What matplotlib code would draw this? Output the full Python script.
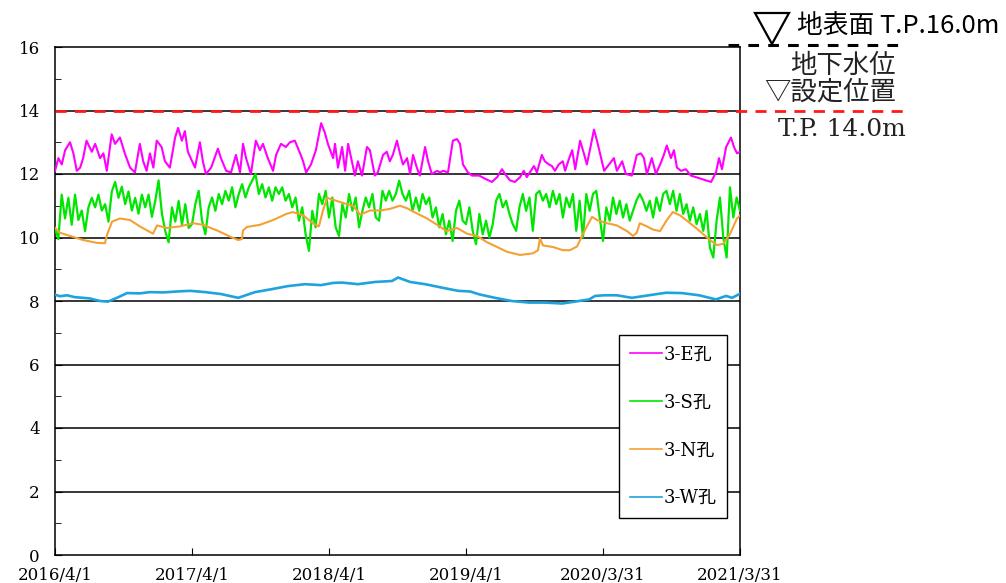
import numpy as np
import matplotlib
matplotlib.use("Agg")
import matplotlib.pyplot as plt
from matplotlib.patches import Polygon

plt.rcParams['font.family'] = ['DejaVu Serif', 'Noto Sans CJK JP']

# days since 2016/4/1
tick_days = [0, 365, 730, 1095, 1460, 1825]
tick_labels = ['2016/4/1', '2017/4/1', '2018/4/1', '2019/4/1', '2020/3/31', '2021/3/31']

# 3-E孔
e_days = [0, 9, 18, 27, 40, 49, 58, 67, 75, 84,
          98, 107, 120, 129, 138, 151, 160, 173, 186, 200,
          213, 226, 235, 244, 253, 262, 271, 284, 293, 306,
          320, 328, 338, 346, 354, 373, 386, 394, 402, 416,
          434, 442, 456, 469, 482, 493, 501, 509, 522, 535,
          546, 554, 567, 581, 589, 602, 615, 626, 639, 653,
          661, 669, 682, 695, 709, 719, 727, 741, 746, 754,
          765, 773, 781, 791, 799, 807, 818, 831, 839, 852,
          860, 874, 884, 892, 900, 911, 919, 927, 938, 946,
          954, 964, 972, 986, 994, 1004, 1018, 1026, 1034, 1047,
          1060, 1071, 1079, 1087, 1100, 1111, 1130, 1146, 1164, 1178,
          1191, 1199, 1212, 1225, 1239, 1249, 1257, 1265, 1276, 1284,
          1297, 1305, 1316, 1324, 1332, 1342, 1353, 1359, 1370, 1378,
          1386, 1399, 1409, 1417, 1425, 1436, 1444, 1452, 1463, 1476,
          1489, 1497, 1511, 1521, 1537, 1550, 1561, 1569, 1577, 1590,
          1601, 1614, 1622, 1630, 1641, 1649, 1657, 1668, 1681, 1694,
          1708, 1721, 1734, 1748, 1761, 1769, 1777, 1788, 1801, 1809,
          1817, 1825]
e_level = [12.1, 12.5, 12.3, 12.75, 13.0, 12.65, 12.1, 12.2, 12.5, 13.05,
           12.7, 12.95, 12.5, 12.65, 12.1, 13.25, 12.95, 13.15, 12.65, 12.2,
           12.05, 12.95, 12.4, 12.1, 12.65, 12.2, 13.05, 12.85, 12.4, 12.2,
           13.15, 13.45, 13.05, 13.35, 12.7, 12.2, 13.0, 12.4, 12.0, 12.2,
           12.8, 12.5, 12.1, 12.05, 12.6, 12.05, 12.95, 12.5, 12.0, 13.05,
           12.75, 12.95, 12.5, 12.1, 12.6, 12.95, 12.85, 13.0, 13.05, 12.65,
           12.4, 12.05, 12.3, 12.75, 13.6, 13.3, 12.95, 12.5, 12.95, 12.2,
           12.85, 12.1, 12.95, 12.4, 11.95, 12.4, 11.95, 12.85, 12.75, 11.95,
           12.05, 12.6, 12.7, 12.4, 12.6, 13.05, 12.65, 12.3, 12.5, 12.0,
           12.6, 12.2, 11.95, 12.85, 12.4, 12.0, 12.1, 12.05, 12.1, 12.05,
           13.05, 13.1, 12.95, 12.3, 12.05, 11.95, 11.95, 11.85, 11.75, 11.9,
           12.15, 12.0, 11.8, 11.75, 11.9, 12.1, 11.9, 12.05, 12.25, 12.05,
           12.6, 12.4, 12.3, 12.25, 12.1, 12.3, 12.4, 12.1, 12.5, 12.75,
           12.15, 13.05, 12.65, 12.3, 12.75, 13.4, 13.05, 12.65, 12.1, 12.3,
           12.5, 12.1, 12.4, 12.0, 11.95, 12.6, 12.65, 12.5, 12.0, 12.5,
           12.0, 12.35, 12.6, 12.9, 12.5, 12.75, 12.2, 12.1, 12.15, 11.95,
           11.9, 11.85, 11.8, 11.75, 12.05, 12.5, 12.15, 12.85, 13.15, 12.85,
           12.65, 12.7]

# 3-S孔 (evenly spaced readings over the whole period)
s_level = [10.3, 9.95, 11.35, 10.6, 11.25, 10.4, 11.35, 10.55, 10.85, 10.2,
           10.95, 11.25, 10.95, 11.35, 10.85, 11.05, 10.5, 11.45, 11.75, 11.25,
           11.6, 11.05, 11.45, 10.85, 11.25, 10.75, 11.35, 10.95, 11.35, 10.65,
           11.15, 11.8, 10.75, 10.2, 9.85, 10.95, 10.5, 11.15, 10.4, 11.05, 10.3,
           10.42, 11.05, 11.47, 10.53, 10.1, 10.95, 11.26, 10.84, 11.37, 11.05,
           11.47, 11.16, 11.58, 10.95, 11.37, 11.68, 11.26, 11.58, 11.79, 12.0,
           11.37, 11.68, 11.26, 11.58, 11.16, 11.58, 11.37, 11.58, 11.16, 11.37,
           10.95, 11.26, 10.53, 10.95, 10.1, 9.58, 10.84, 10.32, 11.37, 11.05, 11.47,
           10.63, 11.26, 10.32, 10.05, 11.05, 10.63, 11.37, 10.84, 11.26, 10.32,
           10.84, 11.26, 10.95, 11.37, 10.63, 10.53, 11.47, 11.16, 11.47, 11.16,
           11.37, 11.79, 11.37, 11.16, 11.47, 10.84, 11.26, 10.84, 11.37, 11.05,
           11.26, 10.63, 10.95, 10.32, 10.74, 10.1, 10.53, 9.89, 10.84, 11.16, 10.53,
           10.42, 10.95, 10.21, 9.79, 10.74, 10.1, 10.53, 10.0, 10.42, 11.16,
           11.37, 10.95, 11.16, 10.74, 10.42, 10.21, 10.95, 11.37, 10.84, 11.26,
           10.21, 11.37, 11.47, 11.16, 11.37, 10.95, 11.47, 11.05, 11.37, 10.63,
           11.26, 10.95, 11.37, 10.21, 11.16, 10.0, 11.37, 10.84, 11.37, 11.47, 10.63,
           9.89, 10.95, 10.53, 11.26, 10.74, 11.16, 10.63, 11.05, 10.53, 10.84,
           11.16, 11.37, 11.16, 10.84, 11.16, 10.63, 11.26, 10.84, 11.37, 11.47,
           11.05, 11.47, 10.84, 11.37, 10.74, 11.05, 10.53, 10.95, 10.42, 10.74,
           10.21, 10.84, 9.68, 9.37, 10.53, 11.26, 10.0, 9.37, 11.58, 10.63,
           11.26, 10.84]
s_days = np.linspace(0, 1825, len(s_level))

# 3-N孔
n_days = [0, 13, 40, 75, 112, 133, 139, 152, 173, 200,
          226, 261, 272, 298, 333, 368, 394, 432, 466, 488,
          498, 501, 511, 546, 581, 618, 634, 661, 687, 703,
          714, 725, 751, 778, 794, 813, 839, 866, 892, 919,
          938, 964, 991, 1018, 1044, 1071, 1098, 1124, 1151, 1178,
          1204, 1239, 1273, 1287, 1292, 1300, 1327, 1353, 1372, 1391,
          1399, 1407, 1417, 1431, 1444, 1471, 1497, 1524, 1540, 1550,
          1558, 1577, 1593, 1612, 1630, 1646, 1665, 1692, 1718, 1745,
          1764, 1780, 1798, 1817, 1825]
n_level = [10.3, 10.15, 10.05, 9.92, 9.83, 9.82, 10.1, 10.5, 10.6, 10.55,
           10.35, 10.12, 10.38, 10.3, 10.35, 10.45, 10.4, 10.22, 10.03, 9.92,
           9.95, 10.22, 10.33, 10.4, 10.55, 10.75, 10.8, 10.7, 10.45, 10.35,
           10.85, 11.25, 11.15, 11.05, 11.0, 10.72, 10.85, 10.85, 10.9, 11.0,
           10.92, 10.76, 10.6, 10.4, 10.2, 10.3, 10.12, 10.05, 9.85, 9.7,
           9.55, 9.45, 9.5, 9.6, 9.97, 9.75, 9.7, 9.6, 9.6, 9.72,
           9.92, 10.12, 10.35, 10.65, 10.55, 10.45, 10.38, 10.2, 10.05, 10.15,
           10.45, 10.35, 10.25, 10.2, 10.55, 10.8, 10.7, 10.45, 10.2, 9.92,
           9.76, 9.8, 10.1, 10.6, 10.7]

# 3-W孔
w_days = [0, 13, 32, 53, 75, 93, 120, 141, 165, 192,
          226, 253, 288, 325, 360, 400, 442, 488, 533, 576,
          621, 666, 709, 741, 765, 807, 853, 898, 914, 946,
          986, 1031, 1074, 1106, 1130, 1172, 1217, 1263, 1305, 1351,
          1396, 1423, 1439, 1463, 1497, 1537, 1582, 1628, 1670, 1716,
          1761, 1788, 1804, 1825]
w_level = [8.2, 8.15, 8.18, 8.12, 8.1, 8.08, 8.0, 7.98, 8.1, 8.25,
           8.24, 8.28, 8.27, 8.3, 8.32, 8.28, 8.22, 8.1, 8.28, 8.37,
           8.47, 8.53, 8.5, 8.57, 8.58, 8.53, 8.6, 8.63, 8.74, 8.6,
           8.53, 8.42, 8.32, 8.3, 8.21, 8.1, 8.0, 7.95, 7.95, 7.92,
           8.0, 8.05, 8.16, 8.18, 8.18, 8.1, 8.18, 8.26, 8.25, 8.18,
           8.05, 8.16, 8.1, 8.23]

ground_level = 16.0
limit_level = 14.0

W, H = 1006, 583
fig = plt.figure(figsize=(W / 100, H / 100), dpi=100)
ax = fig.add_axes([55 / W, 1 - 555 / H, 685 / W, 508 / H])

for y in range(2, 16, 2):
    ax.axhline(y, color='black', lw=1.1, zorder=1)

ax.plot(e_days, e_level, color='#ff00ff', lw=1.5, label='3-E孔', zorder=3)
ax.plot(s_days, s_level, color='#00e600', lw=1.6, label='3-S孔', zorder=3)
ax.plot(n_days, n_level, color='#f5a033', lw=1.5, label='3-N孔', zorder=4)
ax.plot(w_days, w_level, color='#1ea3dd', lw=1.9, label='3-W孔', zorder=4)

# 14m line runs out past the frame
x_end = (905 - 55) * 1825 / 685
ax.plot([0, x_end], [limit_level, limit_level], color='#ff1a1a', lw=2,
        dashes=(4, 3), clip_on=False, zorder=5)
x_g0 = (728 - 55) * 1825 / 685
ax.plot([x_g0, x_end], [ground_level + 0.05, ground_level + 0.05], color='black',
        lw=2.2, dashes=(3.5, 3), clip_on=False, zorder=5)

ax.set_xlim(0, 1825)
ax.set_ylim(0, 16)
ax.set_xticks(tick_days)
ax.set_xticklabels(tick_labels)
ax.set_yticks(range(0, 17, 2))
ax.set_yticks(range(1, 17, 2), minor=True)
ax.tick_params(axis='both', which='both', direction='in', labelsize=12)
ax.tick_params(axis='y', which='major', length=5, pad=11)
ax.tick_params(axis='y', which='minor', length=4)
ax.tick_params(axis='x', which='major', length=5, pad=9)
for sp in ax.spines.values():
    sp.set_linewidth(1.1)

leg = ax.legend(loc='lower left', bbox_to_anchor=((619 - 55) / 685, (555 - 518) / 508),
                borderaxespad=0, fontsize=13, handlelength=1.8, handletextpad=0.05,
                labelspacing=1.65, borderpad=0.6, fancybox=False, framealpha=1,
                edgecolor='black')
leg.get_frame().set_linewidth(1.0)
for line in leg.get_lines():
    line.set_linewidth(1.2)

# annotations to the right of the plot
tri = Polygon([(755 / W, 1 - 13 / H), (789 / W, 1 - 13 / H), (772 / W, 1 - 44 / H)],
              closed=True, fill=False, edgecolor='black', lw=1.6, transform=fig.transFigure)
fig.patches.append(tri)
fig.text(797 / W, 1 - 27 / H, '地表面 T.P.16.0m', family=['Noto Sans CJK JP'],
         fontsize=18.5, ha='left', va='center')
fig.text(896 / W, 1 - 65 / H, '地下水位', family=['Noto Sans CJK JP'],
         fontsize=19, ha='right', va='center', color='#222222')
fig.text(896 / W, 1 - 92 / H, '▽設定位置', family=['Noto Sans CJK JP'],
         fontsize=19, ha='right', va='center', color='#222222')
fig.text(778 / W, 1 - 130 / H, 'T.P. 14.0m', family=['DejaVu Serif'],
         fontsize=18, ha='left', va='center', color='#222222')

fig.savefig('out.png', dpi=100)
